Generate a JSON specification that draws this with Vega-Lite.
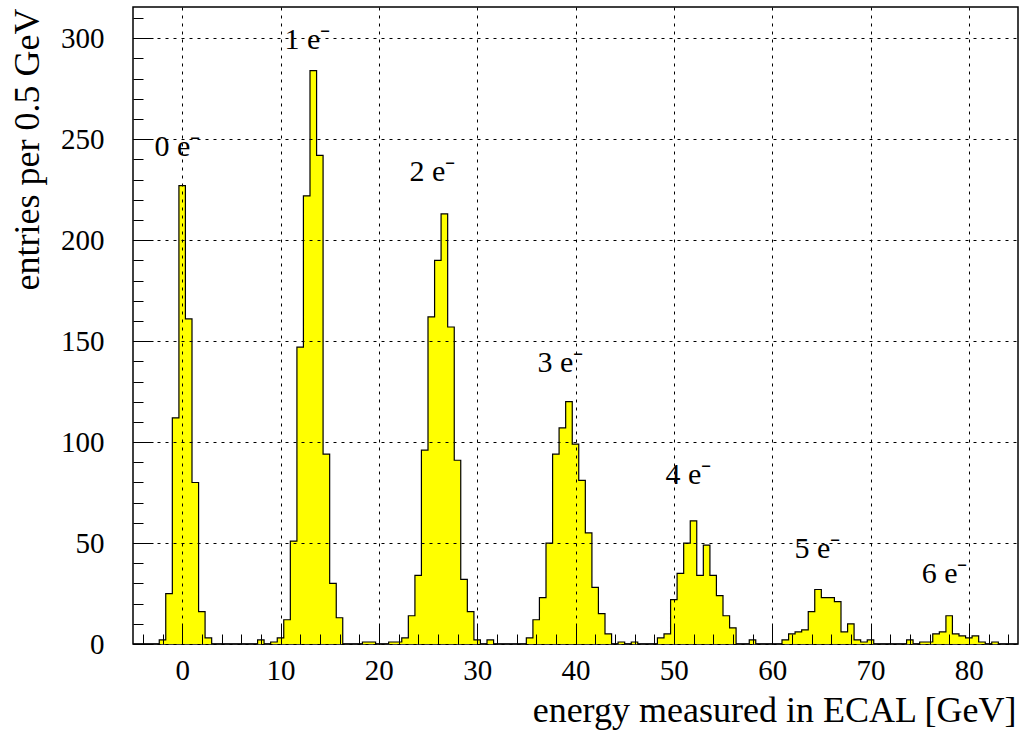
{
  "$schema": "https://vega.github.io/schema/vega-lite/v6.json",
  "width": 885,
  "height": 637,
  "autosize": {"type": "none"},
  "padding": {"left": 133, "top": 7, "right": 4, "bottom": 88},
  "background": "white",
  "config": {
    "view": {"stroke": "black", "strokeWidth": 1.5},
    "font": "Liberation Serif"
  },
  "datasets": {
    "hist": [
      {"E":-5,"n":0},{"E":-4.33,"n":0},{"E":-3.67,"n":0},{"E":-3,"n":0},{"E":-2.33,"n":2},{"E":-1.67,"n":25},{"E":-1,"n":112},{"E":-0.33,"n":227},{"E":0.33,"n":161},{"E":1,"n":80},{"E":1.67,"n":16},{"E":2.33,"n":3},{"E":3,"n":0},{"E":3.67,"n":0},{"E":4.33,"n":0},{"E":5,"n":0},{"E":5.67,"n":0},{"E":6.33,"n":0},{"E":7,"n":0},{"E":7.67,"n":2},{"E":8.33,"n":0},{"E":9,"n":1},{"E":9.67,"n":3},{"E":10.33,"n":12},{"E":11,"n":51},{"E":11.67,"n":147},{"E":12.33,"n":222},{"E":13,"n":284},{"E":13.67,"n":242},{"E":14.33,"n":94},{"E":15,"n":30},{"E":15.67,"n":13},{"E":16.33,"n":0},{"E":17,"n":0},{"E":17.67,"n":0},{"E":18.33,"n":1},{"E":19,"n":1},{"E":19.67,"n":0},{"E":20.33,"n":0},{"E":21,"n":1},{"E":21.67,"n":1},{"E":22.33,"n":3},{"E":23,"n":14},{"E":23.67,"n":34},{"E":24.33,"n":96},{"E":25,"n":162},{"E":25.67,"n":190},{"E":26.33,"n":213},{"E":27,"n":157},{"E":27.67,"n":91},{"E":28.33,"n":32},{"E":29,"n":16},{"E":29.67,"n":2},{"E":30.33,"n":0},{"E":31,"n":2},{"E":31.67,"n":0},{"E":32.33,"n":0},{"E":33,"n":0},{"E":33.67,"n":0},{"E":34.33,"n":0},{"E":35,"n":3},{"E":35.67,"n":12},{"E":36.33,"n":23},{"E":37,"n":50},{"E":37.67,"n":94},{"E":38.33,"n":107},{"E":39,"n":120},{"E":39.67,"n":99},{"E":40.33,"n":81},{"E":41,"n":55},{"E":41.67,"n":28},{"E":42.33,"n":15},{"E":43,"n":5},{"E":43.67,"n":0},{"E":44.33,"n":1},{"E":45,"n":0},{"E":45.67,"n":1},{"E":46.33,"n":0},{"E":47,"n":0},{"E":47.67,"n":0},{"E":48.33,"n":3},{"E":49,"n":5},{"E":49.67,"n":22},{"E":50.33,"n":35},{"E":51,"n":50},{"E":51.67,"n":61},{"E":52.33,"n":34},{"E":53,"n":49},{"E":53.67,"n":34},{"E":54.33,"n":24},{"E":55,"n":14},{"E":55.67,"n":8},{"E":56.33,"n":0},{"E":57,"n":0},{"E":57.67,"n":2},{"E":58.33,"n":0},{"E":59,"n":0},{"E":59.67,"n":0},{"E":60.33,"n":0},{"E":61,"n":2},{"E":61.67,"n":5},{"E":62.33,"n":6},{"E":63,"n":7},{"E":63.67,"n":16},{"E":64.33,"n":27},{"E":65,"n":23},{"E":65.67,"n":23},{"E":66.33,"n":21},{"E":67,"n":6},{"E":67.67,"n":10},{"E":68.33,"n":2},{"E":69,"n":1},{"E":69.67,"n":2},{"E":70.33,"n":0},{"E":71,"n":0},{"E":71.67,"n":0},{"E":72.33,"n":0},{"E":73,"n":0},{"E":73.67,"n":2},{"E":74.33,"n":0},{"E":75,"n":1},{"E":75.67,"n":1},{"E":76.33,"n":5},{"E":77,"n":6},{"E":77.67,"n":14},{"E":78.33,"n":5},{"E":79,"n":4},{"E":79.67,"n":3},{"E":80.33,"n":4},{"E":81,"n":1},{"E":81.67,"n":0},{"E":82.33,"n":1},{"E":83,"n":0},{"E":83.67,"n":0},{"E":84.33,"n":0},{"E":85,"n":0}
    ],
    "labels": [
      {"x":-2.82,"y":241.9,"label":"0 e⁻"},
      {"x":10.41,"y":294.5,"label":"1 e⁻"},
      {"x":23.12,"y":229.5,"label":"2 e⁻"},
      {"x":36.14,"y":134.8,"label":"3 e⁻"},
      {"x":49.16,"y":79.2,"label":"4 e⁻"},
      {"x":62.28,"y":42.5,"label":"5 e⁻"},
      {"x":75.2,"y":30.1,"label":"6 e⁻"}
    ]
  },
  "layer": [
    {
      "data": {"name": "hist"},
      "mark": {"type": "area", "interpolate": "step-after", "color": "#ffff00", "opacity": 1},
      "encoding": {
        "x": {
          "field": "E", "type": "quantitative",
          "scale": {"domain": [-5, 85], "nice": false, "zero": false},
          "axis": {
            "orient": "bottom", "values": [0,10,20,30,40,50,60,70,80],
            "tickSize": -20, "tickColor": "black", "tickWidth": 1,
            "grid": true, "gridColor": "black", "gridDash": [3,5], "gridWidth": 1, "gridOpacity": 1,
            "domain": false, "zindex": 1,
            "labelFont": "Liberation Serif", "labelFontSize": 29, "labelColor": "black",
            "labelPadding": 32, "labelFlush": false, "labelOverlap": false,
            "title": "energy measured in ECAL [GeV]",
            "titleFont": "Liberation Serif", "titleFontSize": 36, "titleFontWeight": "normal", "titleColor": "black",
            "titleX": 883, "titleY": 77, "titleAlign": "right", "titleBaseline": "alphabetic"
          }
        },
        "y": {
          "field": "n", "type": "quantitative",
          "scale": {"domain": [0, 315.5], "nice": false},
          "axis": {
            "orient": "left", "values": [0,50,100,150,200,250,300],
            "tickSize": -20, "tickColor": "black", "tickWidth": 1,
            "grid": true, "gridColor": "black", "gridDash": [3,5], "gridWidth": 1, "gridOpacity": 1,
            "domain": false, "zindex": 1,
            "labelFont": "Liberation Serif", "labelFontSize": 29, "labelColor": "black",
            "labelPadding": 49, "labelFlush": false, "labelOverlap": false,
            "title": "entries per 0.5 GeV",
            "titleFont": "Liberation Serif", "titleFontSize": 36, "titleFontWeight": "normal", "titleColor": "black",
            "titleX": -95, "titleY": 1, "titleAngle": 270, "titleAlign": "right", "titleBaseline": "alphabetic"
          }
        }
      }
    },
    {
      "data": {"name": "hist"},
      "mark": {"type": "line", "interpolate": "step-after", "color": "black", "strokeWidth": 1.2},
      "encoding": {
        "x": {
          "field": "E", "type": "quantitative",
          "axis": {
            "orient": "bottom",
            "values": [-4,-2,0,2,4,6,8,10,12,14,16,18,20,22,24,26,28,30,32,34,36,38,40,42,44,46,48,50,52,54,56,58,60,62,64,66,68,70,72,74,76,78,80,82,84],
            "tickSize": -10, "tickColor": "black", "tickWidth": 1,
            "labels": false, "grid": false, "domain": false, "title": null, "zindex": 1
          }
        },
        "y": {
          "field": "n", "type": "quantitative",
          "axis": {
            "orient": "left",
            "values": [10,20,30,40,50,60,70,80,90,100,110,120,130,140,150,160,170,180,190,200,210,220,230,240,250,260,270,280,290,300,310],
            "tickSize": -10, "tickColor": "black", "tickWidth": 1,
            "labels": false, "grid": false, "domain": false, "title": null, "zindex": 1
          }
        }
      }
    },
    {
      "data": {"name": "labels"},
      "mark": {"type": "text", "align": "left", "baseline": "alphabetic", "font": "Liberation Serif", "fontSize": 30, "color": "black"},
      "encoding": {
        "x": {"field": "x", "type": "quantitative", "axis": null},
        "y": {"field": "y", "type": "quantitative", "axis": null},
        "text": {"field": "label"}
      }
    }
  ],
  "resolve": {"axis": {"x": "independent", "y": "independent"}}
}
